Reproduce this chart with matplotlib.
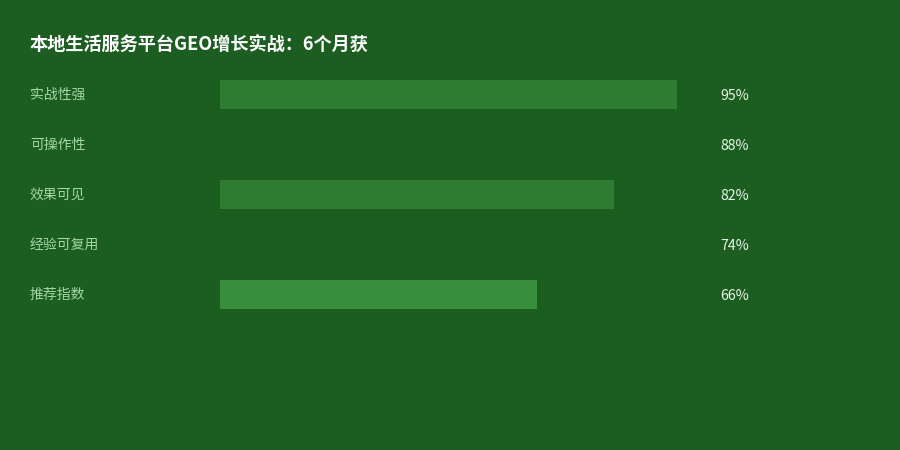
import matplotlib.pyplot as plt
import matplotlib.transforms as mtransforms

plt.rcParams['font.family'] = ['Noto Sans CJK SC', 'DejaVu Sans']

title = "本地生活服务平台GEO增长实战：6个月获"
labels = ["实战性强", "可操作性", "效果可见", "经验可复用", "推荐指数"]
values = [95, 88, 82, 74, 66]
bar_colors = ["#2e7d32", "#1b5e20", "#2e7d32", "#1b5e20", "#388e3c"]

bg = "#1b5e20"
W, H = 900, 450

fig = plt.figure(figsize=(9, 4.5), dpi=100, facecolor=bg)
ax = fig.add_axes([220 / W, 1 - 319.5 / H, 481 / W, 250 / H])
ax.set_facecolor(bg)

y = list(range(len(labels)))
ax.barh(y, values, height=0.58, color=bar_colors)
ax.set_xlim(0, 100)
ax.set_ylim(len(labels) - 0.5, -0.5)
ax.axis('off')

trans = mtransforms.blended_transform_factory(fig.transFigure, ax.transData)
for i, (lab, v) in enumerate(zip(labels, values)):
    ax.text(30 / W, i, lab, transform=trans, ha='left', va='center',
            fontsize=10, color="#a5d6a7")
    ax.text(720 / W, i + 0.02, f"{v}%", transform=trans, ha='left', va='center',
            fontsize=10.2, color="#e8f5e9")

fig.text(30 / W, 1 - 45 / H, title, ha='left', va='center',
         fontsize=13.1, fontweight='bold', color='white')

fig.savefig("out.png", dpi=100, facecolor=bg)
